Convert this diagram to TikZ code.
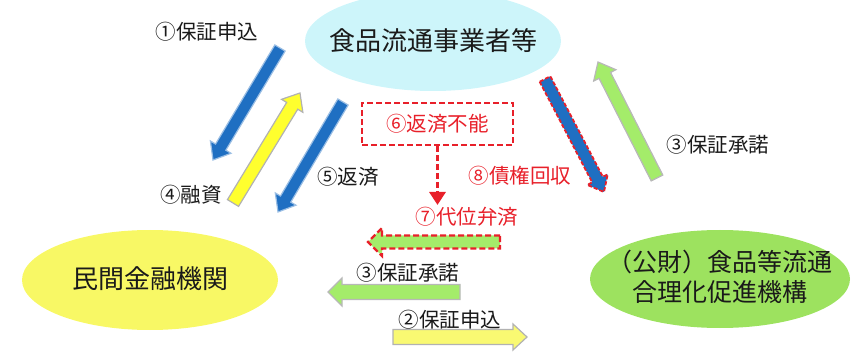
\documentclass[tikz,border=0pt]{standalone}
\usepackage{fontspec}
\setmainfont{Noto Sans CJK JP}
\usetikzlibrary{arrows.meta}
\definecolor{cyanfill}{HTML}{CDF5FA}
\definecolor{yellowfill}{HTML}{F8F865}
\definecolor{greenfill}{HTML}{9DE25F}
\definecolor{bluearr}{HTML}{1F6FC2}
\definecolor{yellowarr}{HTML}{FFFF2E}
\definecolor{yellowarrB}{HTML}{F9F972}
\definecolor{greenarr}{HTML}{A4EC6A}
\definecolor{redtxt}{HTML}{E8202A}
\definecolor{txt}{HTML}{1A1A1A}
\newcommand{\blockarr}[8]{%
  \pgfmathsetmacro\baang{atan2((#5)-(#3),(#4)-(#2))}%
  \pgfmathsetmacro\balen{100*veclen(((#4)-(#2))/100,((#5)-(#3))/100)}%
  \pgfmathsetmacro\babase{\balen-(#8)}%
  \draw[#1, shift={(#2,#3)}, rotate=\baang] (0,-#6) -- (\babase,-#6) -- (\babase,-#7) -- (\balen,0) -- (\babase,#7) -- (\babase,#6) -- (0,#6) -- cycle;%
}
\tikzset{
  lbl/.style={text=txt, font=\fontsize{20.5}{24}\selectfont, inner sep=0pt},
  rlbl/.style={text=redtxt, font=\fontsize{20.5}{24}\selectfont, inner sep=0pt},
  big/.style={text=txt, font=\fontsize{26}{31}\selectfont, inner sep=0pt, align=center},
  bluearrow/.style={fill=bluearr, draw=bluearr!45!white, line width=1.2pt},
  yellowarrow/.style={fill=yellowarr, draw=black!30, line width=1.2pt},
  greenarrow/.style={fill=greenarr, draw=black!28, line width=1.2pt},
  reddash/.style={draw=redtxt, dash pattern=on 6pt off 3pt, line width=2.5pt},
}
\begin{document}
\begin{tikzpicture}[x=1pt, y=1pt]
\useasboundingbox (0,0) rectangle (855,354);
% ellipses
\fill[cyanfill] (433,313) ellipse [x radius=128, y radius=50];
\fill[yellowfill] (150,74) ellipse [x radius=128, y radius=50];
\fill[greenfill] (720,75) ellipse [x radius=130, y radius=49];
\node[big] (biz) at (433,313) {食品流通事業者等};
\node[big] (bank) at (150,75) {民間金融機関};
\node[big, font=\fontsize{25}{30}\selectfont] (org) at (720,77) {（公財）食品等流通\\合理化促進機構};
% diagonal arrows
\blockarr{bluearrow}{280}{306}{213}{194}{6}{12}{15}
\blockarr{yellowarrow}{233}{151}{300}{261}{6.5}{12.5}{15}
\blockarr{bluearrow}{343}{252}{278}{142}{6}{12}{15}
\blockarr{bluearrow, draw=redtxt, dash pattern=on 4pt off 2pt, line width=1.8pt}{545}{275}{604}{162}{6}{11.5}{14}
\blockarr{greenarrow}{657}{176}{598}{292}{6.5}{12.5}{15}
% horizontal arrows
\blockarr{greenarrow, draw=redtxt, dash pattern=on 6pt off 3pt, line width=2.2pt}{500}{112}{368}{112}{6.5}{14}{14}
\blockarr{greenarrow}{460}{62}{328}{62}{7.5}{14}{14}
\blockarr{yellowarrow, fill=yellowarrB}{393}{17}{527}{17}{7.5}{13}{14}
% dashed box and arrow
\node[reddash, minimum width=151pt, minimum height=42pt, inner sep=0pt] (fail) at (437.5,230) {};
\node[rlbl] (failtxt) at (437.5,230) {⑥返済不能};
\coordinate (ftip) at (437.5,149);
\draw[reddash, line width=3pt, -{Triangle[width=16pt,length=13pt]}] (fail.south) -- (ftip);
% labels
\node[lbl] (l1) at (207,322) {①保証申込};
\node[lbl] (l4) at (191,159) {④融資};
\node[lbl] (l5) at (348,177) {⑤返済};
\node[rlbl] (l7) at (467,137) {⑦代位弁済};
\node[rlbl] (l8) at (520,178) {⑧債権回収};
\node[lbl] (l3a) at (718,209) {③保証承諾};
\node[lbl] (l3b) at (408,81) {③保証承諾};
\node[lbl] (l2) at (450,34) {②保証申込};
\end{tikzpicture}
\end{document}
